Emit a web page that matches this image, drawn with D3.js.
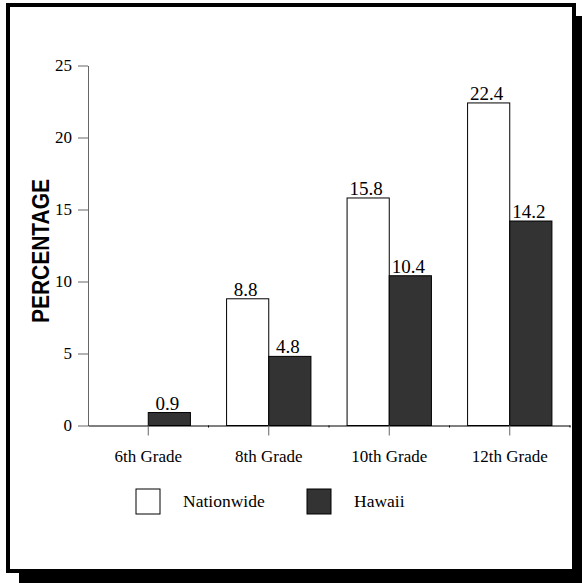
<!DOCTYPE html>
<head>
<meta charset="utf-8">
<title>Percentage by grade</title>
<style>
    body { margin: 0; background: #fff; }
    text { font-family: "Liberation Serif", "Times New Roman", serif; fill: #000; }
    .val { font-size: 19px; }
    .ylabel { font-family: "Liberation Sans", Arial, sans-serif; font-weight: bold; font-size: 21px; }
    .title { font-weight: bold; font-size: 22px; }
    .legend text { font-size: 17.5px; }
</style>
</head>
<body>
<script src="https://d3js.org/d3.v7.min.js"></script>
<script>
    const GRADES = ['6th Grade', '8th Grade', '10th Grade', '12th Grade'];
    const SERIES = ['Nationwide', 'Hawaii'];
    const NATIONWIDE = [null, 8.8, 15.8, 22.4];
    const HAWAII = [0.9, 4.8, 10.4, 14.2];
    const Y_TICKS = [0, 5, 10, 15, 20, 25];
    const COLORS = {Nationwide: '#ffffff', Hawaii: '#333333'};

    const W = 582, H = 583;
    const svg = d3.select('body').append('svg')
        .attr('width', W)
        .attr('height', H);

    // drop shadow + framed panel
    svg.append('rect').attr('x', 19).attr('y', 16).attr('width', 570).attr('height', 570).attr('fill', '#000');
    svg.append('rect').attr('x', 8).attr('y', 5).attr('width', 566).attr('height', 566)
        .attr('fill', '#fff').attr('stroke', '#000').attr('stroke-width', 4);

    // title, cut off at the top of the picture (only descenders show)
    svg.append('text').attr('class', 'title')
        .attr('x', 291).attr('y', -5)
        .attr('text-anchor', 'middle')
        .text('Binge Drinking by grade level');

    const x0 = d3.scaleBand().domain(GRADES).range([88, 570]);
    const x1 = d3.scaleBand().domain(SERIES)
        .range([x0.bandwidth() * 0.15, x0.bandwidth() * 0.85]);
    const y = d3.scaleLinear().domain([0, 25]).range([425.5, 65.5]);

    const rows = GRADES.map((g, i) => ({
        grade: g,
        values: [
            {key: 'Nationwide', value: NATIONWIDE[i]},
            {key: 'Hawaii', value: HAWAII[i]}
        ].filter(d => d.value != null)
    }));

    const grp = svg.selectAll('.grade')
        .data(rows)
        .join('g')
        .attr('class', 'grade')
        .attr('transform', d => `translate(${x0(d.grade)},0)`);

    grp.selectAll('rect')
        .data(d => d.values)
        .join('rect')
        .attr('x', d => x1(d.key))
        .attr('y', d => y(d.value))
        .attr('width', x1.bandwidth())
        .attr('height', d => y(0) - y(d.value))
        .attr('fill', d => COLORS[d.key])
        .attr('stroke', '#000')
        .attr('stroke-width', 1);

    grp.selectAll('.val')
        .data(d => d.values)
        .join('text')
        .attr('class', 'val')
        .attr('text-anchor', 'middle')
        .attr('x', d => x1(d.key) + x1.bandwidth() / 2 - 2)
        .attr('y', d => y(d.value) - 3)
        .text(d => d.value.toFixed(1));

    // y axis
    const yAxis = svg.append('g')
        .attr('transform', 'translate(88,0)')
        .call(d3.axisLeft(y).tickValues(Y_TICKS).tickSize(10).tickSizeOuter(0).tickPadding(6));
    yAxis.select('.domain').attr('stroke', '#666');
    yAxis.selectAll('.tick line').attr('stroke', '#666');

    // x axis
    const xAxis = svg.append('g')
        .attr('transform', `translate(0,${y(0)})`)
        .call(d3.axisBottom(x0).tickSize(10).tickSizeOuter(0).tickPadding(14));
    xAxis.select('.domain').attr('stroke', '#000');
    xAxis.selectAll('.tick line').attr('stroke', '#666');
    xAxis.selectAll('.bound')
        .data(GRADES)
        .join('line')
        .attr('class', 'bound')
        .attr('x1', d => x0(d) + x0.bandwidth())
        .attr('x2', d => x0(d) + x0.bandwidth())
        .attr('y1', 0).attr('y2', 2)
        .attr('stroke', '#000');

    yAxis.attr('font-family', null).selectAll('text').style('font-size', '17px');
    xAxis.attr('font-family', null).selectAll('text').style('font-size', '17px');

    // y label
    svg.append('text').attr('class', 'ylabel')
        .attr('transform', 'translate(49,251) rotate(-90) scale(1,1.15)')
        .attr('text-anchor', 'middle')
        .text('PERCENTAGE');

    // legend
    const legend = svg.append('g').attr('class', 'legend')
        .selectAll('g')
        .data(SERIES)
        .join('g')
        .attr('transform', (d, i) => `translate(${136 + i * 171},489)`);
    legend.append('rect')
        .attr('width', 24).attr('height', 25)
        .attr('fill', d => COLORS[d])
        .attr('stroke', '#000');
    legend.append('text')
        .attr('x', 47).attr('y', 18)
        .text(d => d);
</script>
</body>
